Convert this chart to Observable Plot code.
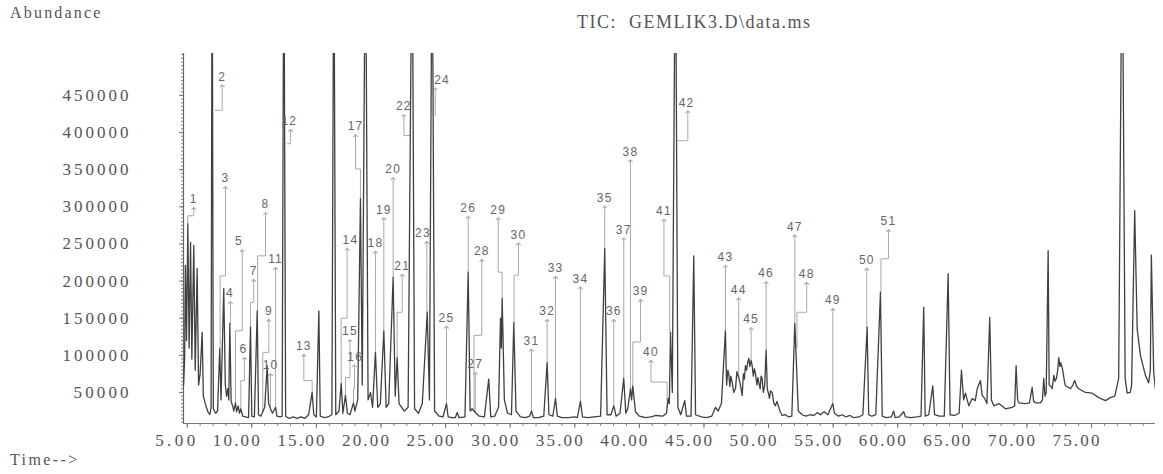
<!DOCTYPE html>
<html>
<head>
<meta charset="utf-8">
<script src="https://cdn.jsdelivr.net/npm/d3@7"></script>
<script src="https://cdn.jsdelivr.net/npm/@observablehq/plot@0.6"></script>
<style>
  html, body { margin: 0; padding: 0; background: #fff; }
  #wrap { position: relative; width: 1163px; height: 474px; overflow: hidden; }
  .lbl { position: absolute; font-family: "Liberation Serif", "DejaVu Serif", serif; color: #555; white-space: pre; }
  g[aria-description="peak label"] text { letter-spacing: 1.2px; }
</style>
</head>
<body>
<div id="wrap">
  <div class="lbl" style="left:10px;top:5px;font-size:16px;line-height:16px;letter-spacing:2.2px;">Abundance</div>
  <div class="lbl" style="left:577px;top:13px;font-size:18px;line-height:18px;letter-spacing:1.5px;">TIC:  GEMLIK3.D\data.ms</div>
  <div class="lbl" style="left:10px;top:452px;font-size:16px;line-height:16px;letter-spacing:2.4px;">Time--&gt;</div>
</div>
<script>
// ---- Chromatogram trace: [retention time (min), abundance (thousands)] ----
const chromatogram = [
[4.72,60],[4.80,95],[4.86,221],[4.95,120],[5.05,277],[5.15,110],[5.26,252],[5.36,95],[5.51,248],[5.62,80],[5.77,217],[5.88,60],[6.0,75],[6.16,131],[6.25,45],[6.4,35],[6.6,24],[6.75,20],[6.85,30],[6.93,700],[7.02,28],[7.2,22],[7.35,25],[7.52,109],[7.62,40],[7.83,190],[7.95,60],[8.05,45],[8.14,55],[8.22,40],[8.30,143],[8.40,38],[8.55,30],[8.6,25],[8.74,36],[8.82,24],[8.95,32],[9.05,22],[9.15,28],[9.3,18],[9.5,17],[9.75,16],[9.90,138],[10.0,18],[10.2,17],[10.42,160],[10.52,20],[10.7,18],[10.85,24],[11.0,30],[11.19,86],[11.3,35],[11.45,28],[11.6,22],[11.84,30],[11.95,18],[12.2,17],[12.35,18],[12.48,700],[12.62,18],[12.9,15],[13.2,17],[13.5,15],[13.8,17],[14.1,15],[14.4,20],[14.67,50],[14.8,20],[15.0,17],[15.19,160],[15.3,18],[15.6,16],[15.9,17],[16.2,20],[16.35,700],[16.5,20],[16.75,25],[16.92,62],[17.05,22],[17.25,46],[17.4,22],[17.6,20],[17.87,36],[17.98,25],[18.2,40],[18.41,311],[18.55,60],[18.80,700],[19.0,40],[19.19,50],[19.35,30],[19.57,104],[19.75,30],[19.95,35],[20.22,133],[20.4,30],[20.6,35],[20.94,205],[21.1,45],[21.25,97],[21.4,35],[21.8,25],[22.1,30],[22.41,700],[22.6,28],[22.9,22],[23.2,35],[23.58,158],[23.75,40],[23.96,700],[24.15,25],[24.5,18],[24.8,17],[25.07,35],[25.2,17],[25.5,16],[25.75,16],[25.9,23],[26.05,16],[26.5,17],[26.75,212],[26.9,25],[27.05,28],[27.3,23],[27.6,18],[28.0,17],[28.34,68],[28.5,17],[28.8,18],[29.1,30],[29.25,150],[29.32,110],[29.38,177],[29.55,40],[29.8,22],[30.1,20],[30.28,144],[30.45,25],[30.8,17],[31.2,16],[31.5,18],[31.65,25],[31.8,16],[32.2,16],[32.6,18],[32.86,90],[33.0,20],[33.3,18],[33.51,42],[33.65,18],[34.0,16],[34.5,16],[35.0,17],[35.2,16],[35.44,38],[35.6,17],[36.0,16],[36.5,17],[37.0,18],[37.32,244],[37.5,20],[37.8,20],[38.02,32],[38.2,18],[38.5,22],[38.79,69],[38.95,22],[39.1,28],[39.31,55],[39.4,40],[39.49,59],[39.7,24],[40.0,18],[40.5,16],[40.9,17],[41.3,19],[41.8,18],[42.1,22],[42.23,42],[42.32,35],[42.41,131],[42.55,50],[42.79,700],[42.98,30],[43.2,20],[43.51,39],[43.65,18],[44.0,18],[44.21,234],[44.35,20],[44.8,17],[45.2,16],[45.6,18],[45.9,30],[46.1,25],[46.35,35],[46.66,133],[46.75,60],[46.85,80],[46.92,75],[47.0,58],[47.08,72],[47.18,64],[47.3,50],[47.44,55],[47.55,78],[47.69,70],[47.8,62],[47.96,46],[48.05,75],[48.13,68],[48.21,86],[48.3,80],[48.4,92],[48.47,96],[48.55,85],[48.65,93],[48.73,86],[48.82,72],[48.9,82],[48.99,75],[49.1,60],[49.17,70],[49.24,64],[49.35,55],[49.42,72],[49.5,69],[49.6,50],[49.7,60],[49.81,107],[49.9,55],[50.0,48],[50.07,42],[50.15,52],[50.28,50],[50.4,36],[50.53,32],[50.65,38],[50.79,30],[50.9,24],[51.05,19],[51.3,20],[51.56,17],[51.8,18],[52.03,143],[52.12,105],[52.3,25],[52.6,20],[52.9,18],[53.2,20],[53.5,19],[53.8,23],[54.0,20],[54.3,24],[54.6,20],[54.97,35],[55.1,22],[55.4,18],[55.7,20],[56.0,17],[56.3,19],[56.6,16],[57.0,17],[57.3,20],[57.63,138],[57.75,20],[58.0,18],[58.3,20],[58.66,185],[58.8,18],[59.1,16],[59.5,17],[59.69,25],[59.8,16],[60.1,17],[60.46,24],[60.6,17],[61.0,16],[61.5,17],[61.8,18],[62.01,165],[62.12,18],[62.4,20],[62.71,59],[62.85,20],[63.2,18],[63.6,18],[63.90,210],[64.05,20],[64.4,19],[64.75,22],[64.93,80],[65.1,40],[65.24,49],[65.5,32],[65.76,42],[66.0,39],[66.15,55],[66.4,66],[66.53,46],[66.73,42],[66.9,35],[67.12,151],[67.25,40],[67.43,32],[67.82,35],[68.34,28],[68.86,30],[69.05,32],[69.16,86],[69.28,40],[69.37,36],[69.88,35],[70.2,36],[70.4,57],[70.52,38],[70.66,36],[71.05,36],[71.2,40],[71.3,69],[71.4,45],[71.49,50],[71.64,241],[71.72,60],[71.82,59],[71.95,55],[72.08,73],[72.18,65],[72.28,69],[72.38,80],[72.46,97],[72.55,85],[72.62,90],[72.77,80],[72.9,65],[72.98,59],[73.2,57],[73.37,55],[73.55,60],[73.7,66],[73.85,58],[74.01,55],[74.53,50],[75.05,49],[75.56,43],[76.08,39],[76.46,43],[76.8,45],[77.1,69],[77.37,700],[77.6,69],[77.76,49],[78.0,50],[78.1,60],[78.34,295],[78.53,136],[78.78,100],[79.17,73],[79.42,63],[79.55,80],[79.63,235],[79.81,77],[79.94,55]
];

// ---- Peak annotations ----
const peakNo     = [1,2,3,4,5,6,7,8,9,10,11,12,13,14,15,16,17,18,19,20,21,22,23,24,25,26,27,28,29,30,31,32,33,34,35,36,37,38,39,40,41,42,43,44,45,46,47,48,49,50,51];
const arrowTime  = [5.51,7.71,7.96,8.35,9.26,9.43,10.15,11.06,11.32,11.45,11.84,13.0,14.03,17.38,17.6,17.95,18.03,19.57,20.22,20.94,21.64,21.77,23.55,24.2,25.07,26.75,27.3,27.8,29.07,30.64,31.65,32.86,33.51,35.44,37.32,38.02,38.79,39.31,40.09,40.9,41.9,43.75,46.66,47.69,48.65,49.81,52.03,52.95,54.97,57.6,59.28];
const arrowTip   = [298,463,326,171,241,96,201,291,147,74,217,403,100,243,120,86,396,239,284,338,208,423,252,459,138,286,76,228,284,250,107,147,205,191,300,147,257,362,174,92,282,428,220,176,136,198,261,197,162,216,268];
const jogLevel   = [288,430,207,null,133,66,171,234,104,null,null,385,66,150,70,55,351,null,null,null,158,396,null,null,null,null,null,127,212,208,null,null,null,null,null,null,null,null,118,64,207,389,null,null,null,null,null,158,null,null,230];
const peakTime   = [5.05,7.15,7.55,8.35,8.74,9.15,9.90,10.45,10.85,11.45,11.84,12.74,14.67,16.92,17.25,17.87,18.41,19.57,20.22,20.94,21.25,22.28,23.55,24.2,25.07,26.75,27.3,27.2,29.38,30.3,31.65,32.86,33.51,35.44,37.32,38.02,38.79,39.31,39.49,42.15,42.35,42.95,46.66,47.69,48.65,49.81,52.03,52.2,54.97,57.6,58.7];
const peakTop    = [277,430,109,143,36,28,138,160,24,28,30,385,50,62,46,36,311,104,133,205,97,396,158,423,35,212,23,27,177,144,25,90,42,38,244,32,69,55,59,30,131,389,133,70,93,107,143,110,35,138,185];
const labelTime  = [5.51,7.71,7.96,8.3,9.0,9.35,10.15,11.06,11.32,11.45,11.84,12.9,14.03,17.64,17.6,18.0,18.03,19.57,20.22,20.94,21.64,21.77,23.25,24.73,25.07,26.75,27.3,27.8,29.07,30.64,31.65,32.86,33.51,35.44,37.32,38.02,38.79,39.31,40.09,40.9,41.9,43.65,46.66,47.69,48.65,49.81,52.03,52.95,54.97,57.6,59.28];

// ---- Axis ticks ----
const xMajorTicks = [5,10,15,20,25,30,35,40,45,50,55,60,65,70,75];
const xMinorTicks = d3.range(5, 80, 1);
const yMajorTicks = [50,100,150,200,250,300,350,400,450];
const yMinorTicks = d3.range(10, 506, 5);

const xDomain = [4.714, 79.95];
const yDomain = [8.2, 506.5];

const trace = chromatogram.map(([t, a]) => ({t, a}));
const leaders = [];
peakNo.forEach((id, i) => {
  const pts = jogLevel[i] != null
    ? [[peakTime[i], peakTop[i]], [peakTime[i], jogLevel[i]], [arrowTime[i], jogLevel[i]], [arrowTime[i], arrowTip[i]]]
    : [[arrowTime[i], peakTop[i]], [arrowTime[i], arrowTip[i]]];
  pts.forEach(([t, v]) => leaders.push({id, t, v}));
});
const labels = peakNo.map((id, i) => ({id, t: labelTime[i], v: arrowTip[i]}));

const serif = "'Liberation Serif', 'Times New Roman', serif";

const chart = Plot.plot({
  width: 1163,
  height: 474,
  marginLeft: 183,
  marginRight: 8,
  marginTop: 53,
  marginBottom: 51,
  style: {background: "#fff", overflow: "visible"},
  x: {domain: xDomain},
  y: {domain: yDomain},
  marks: [
    Plot.axisY(yMinorTicks, {anchor: "left", tickSize: 2, tickFormat: () => "", stroke: "#888", label: null}),
    Plot.axisY(yMajorTicks, {anchor: "left", tickSize: 4, tickFormat: () => "", stroke: "#777", label: null}),
    Plot.axisX(xMinorTicks, {anchor: "bottom", tickSize: 3, tickFormat: () => "", stroke: "#888", label: null}),
    Plot.axisX(xMajorTicks, {anchor: "bottom", tickSize: 5, tickFormat: () => "", stroke: "#777", label: null}),
    Plot.text(yMajorTicks, {x: xDomain[0], y: d => d, text: d => String(d * 1000), textAnchor: "end", dx: -55, fontSize: 17, fontFamily: serif, fill: "#555", ariaDescription: "y tick label"}),
    Plot.text(xMajorTicks, {x: d => d, y: yDomain[0], text: d => d.toFixed(2), textAnchor: "end", dx: 8, dy: 17, fontSize: 17, fontFamily: serif, fill: "#555", ariaDescription: "x tick label"}),
    Plot.ruleX([xDomain[0]], {stroke: "#666", strokeWidth: 1.2}),
    Plot.ruleY([yDomain[0]], {stroke: "#777"}),
    Plot.line(leaders, {x: "t", y: "v", z: "id", stroke: "#a8a8a8", strokeWidth: 1, markerEnd: "arrow"}),
    Plot.line(trace, {x: "t", y: "a", stroke: "#404040", strokeWidth: 1.3, clip: true}),
    Plot.text(labels, {x: "t", y: "v", text: d => String(d.id), dy: -9, fontSize: 12, fontFamily: "'Liberation Sans', Arial, sans-serif", fill: "#666", ariaDescription: "peak label"})
  ]
});
chart.style.position = "absolute";
chart.style.left = "0px";
chart.style.top = "0px";
document.getElementById("wrap").prepend(chart);

// stretch tick labels to the reference's text widths
chart.querySelectorAll('g[aria-description="y tick label"] text').forEach(t => {
  t.setAttribute("textLength", String(11 * t.textContent.length));
  t.setAttribute("lengthAdjust", "spacing");
});
chart.querySelectorAll('g[aria-description="x tick label"] text').forEach(t => {
  t.setAttribute("textLength", String(t.textContent.length === 4 ? 40 : 47));
  t.setAttribute("lengthAdjust", "spacing");
});
</script>
</body>
</html>
